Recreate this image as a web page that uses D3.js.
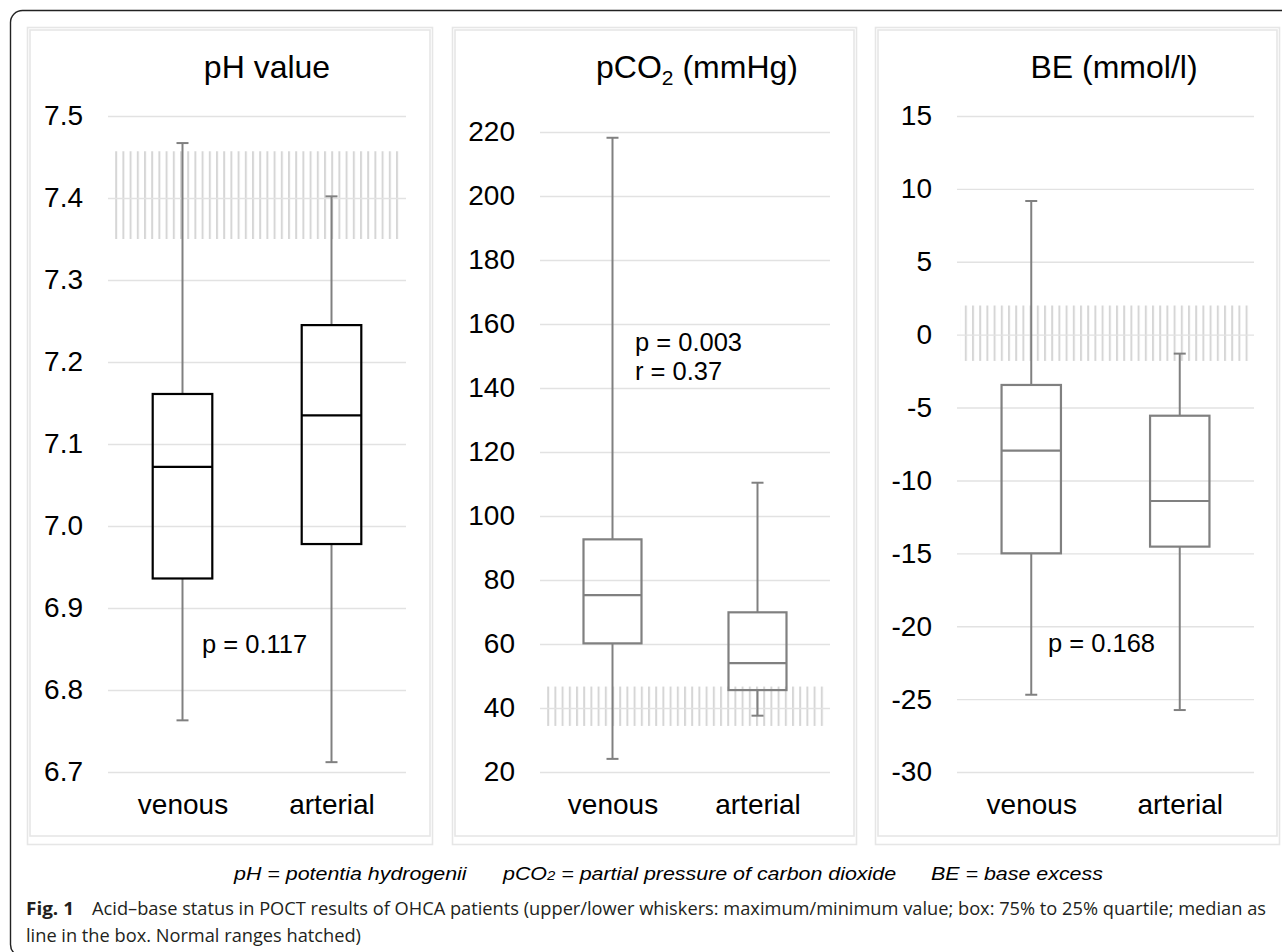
<!DOCTYPE html>
<html lang="en">
<head>
<meta charset="UTF-8">
<title>Acid-base status box plots</title>
<script src="https://d3js.org/d3.v7.min.js"></script>
<style>
    body { margin: 0; background: #fff; }
    text { font-family: "Liberation Sans", Arial, sans-serif; fill: #000; }
    .grid line { stroke: #e2e2e2; stroke-width: 1.4; }
    .whisker { stroke: #808080; stroke-width: 2; }
    .frame { fill: none; stroke: #e6e6e6; stroke-width: 1.6; }
    .caption { font-family: "Open Sans", "Noto Sans", sans-serif; fill: #231f20; font-size: 18.5px; }
</style>
</head>
<body>
<script>
// categories
const groups = ["venous", "arterial"];

// box stats per group: [min, q1, median, q3, max]
const phStats = [[6.763, 6.936, 7.072, 7.161, 7.467], [6.712, 6.978, 7.135, 7.245, 7.402]];
const pco2Stats = [[24.1, 60.2, 75.3, 92.7, 218.2], [37.6, 45.6, 54.0, 69.9, 110.4]];
const beStats = [[-24.7, -15.0, -7.96, -3.45, 9.17], [-25.75, -14.54, -11.41, -5.56, -1.3]];

// normal ranges (hatched)
const phNormal = [7.35, 7.457];
const pco2Normal = [34.4, 46.7];
const beNormal = [-1.8, 2.0];

// tick values
const phTicks = [6.7, 6.8, 6.9, 7.0, 7.1, 7.2, 7.3, 7.4, 7.5];
const pco2Ticks = [20, 40, 60, 80, 100, 120, 140, 160, 180, 200, 220];
const beTicks = [-30, -25, -20, -15, -10, -5, 0, 5, 10, 15];

// annotations
const phNotes = ["p = 0.117"];
const pco2Notes = ["p = 0.003", "r = 0.37"];
const beNotes = ["p = 0.168"];

const W = 1282, H = 952;
const svg = d3.select("body").append("svg")
    .attr("width", W)
    .attr("height", H);

// vertical hatch pattern
svg.append("defs").append("pattern")
    .attr("id", "hatch")
    .attr("patternUnits", "userSpaceOnUse")
    .attr("width", 7.2)
    .attr("height", 10)
  .append("rect")
    .attr("x", 0).attr("y", 0)
    .attr("width", 2).attr("height", 10)
    .attr("fill", "#d6d6d6");

// outer black frame
svg.append("rect")
    .attr("x", 10.5).attr("y", 10.5)
    .attr("width", 1300).attr("height", 946)
    .attr("rx", 12)
    .attr("fill", "none")
    .attr("stroke", "#222")
    .attr("stroke-width", 1.4);

const panels = [
    {title: "pH value", stats: phStats, normal: phNormal, ticks: phTicks, fmt: d => d.toFixed(1),
     domain: [6.7, 7.5], left: 27, right: 433, x0: 108, x1: 406, y0: 772, y1: 116,
     titleX: 267, boxColor: "#000", notes: phNotes, noteX: 202, noteY: 653},
    {title: "pCO", sub: "2", rest: " (mmHg)", stats: pco2Stats, normal: pco2Normal, ticks: pco2Ticks, fmt: d => String(d),
     domain: [20, 220], left: 452, right: 857, x0: 540, x1: 830, y0: 772, y1: 132,
     titleX: 697, boxColor: "#808080", notes: pco2Notes, noteX: 635, noteY: 351},
    {title: "BE (mmol/l)", stats: beStats, normal: beNormal, ticks: beTicks, fmt: d => String(d),
     domain: [-30, 15], left: 875, right: 1280, x0: 957, x1: 1254, y0: 772, y1: 116,
     titleX: 1114, boxColor: "#808080", notes: beNotes, noteX: 1048, noteY: 652}
];

panels.forEach(p => {
    const g = svg.append("g");

    // panel double border
    g.append("rect").attr("class", "frame")
        .attr("x", p.left + 0.5).attr("y", 27.5)
        .attr("width", p.right - p.left - 1).attr("height", 817);
    g.append("rect").attr("class", "frame")
        .attr("x", p.left + 3).attr("y", 30)
        .attr("width", p.right - p.left - 6).attr("height", 806);

    const y = d3.scaleLinear().domain(p.domain).range([p.y0, p.y1]);
    const x = d3.scalePoint().domain(groups).range([p.x0, p.x1]).padding(0.5);
    const bw = x.step() * 0.4;

    // hatched normal range
    g.append("rect")
        .attr("x", p.x0 + 3)
        .attr("width", p.x1 - p.x0 - 6)
        .attr("y", y(p.normal[1]))
        .attr("height", y(p.normal[0]) - y(p.normal[1]))
        .attr("fill", "url(#hatch)");

    // gridlines
    g.append("g").attr("class", "grid")
        .attr("transform", `translate(${p.x0},0)`)
        .call(d3.axisLeft(y).tickValues(p.ticks).tickSize(-(p.x1 - p.x0)).tickFormat(""))
        .call(s => s.select(".domain").remove());

    // tick labels
    g.append("g")
        .attr("transform", `translate(${p.x0 - 25},0)`)
        .call(d3.axisLeft(y).tickValues(p.ticks).tickSize(0).tickPadding(0).tickFormat(p.fmt))
        .call(s => s.select(".domain").remove())
        .call(s => s.selectAll("text")
            .attr("font-family", "Liberation Sans, Arial, sans-serif")
            .attr("font-size", 28)
            .attr("fill", "#000"));

    // category labels
    g.append("g")
        .attr("transform", `translate(0,${814})`)
        .call(d3.axisBottom(x).tickSize(0).tickPadding(0))
        .call(s => s.select(".domain").remove())
        .call(s => s.selectAll("text")
            .attr("dy", 0)
            .attr("font-family", "Liberation Sans, Arial, sans-serif")
            .attr("font-size", 28)
            .attr("fill", "#000"));

    // boxes
    const box = g.selectAll(".box").data(p.stats).join("g").attr("class", "box");
    box.append("line").attr("class", "whisker")
        .attr("x1", (d, i) => x(groups[i])).attr("x2", (d, i) => x(groups[i]))
        .attr("y1", d => y(d[4])).attr("y2", d => y(d[3]));
    box.append("line").attr("class", "whisker")
        .attr("x1", (d, i) => x(groups[i])).attr("x2", (d, i) => x(groups[i]))
        .attr("y1", d => y(d[1])).attr("y2", d => y(d[0]));
    [0, 4].forEach(k => {
        box.append("line").attr("class", "whisker")
            .attr("x1", (d, i) => x(groups[i]) - 6).attr("x2", (d, i) => x(groups[i]) + 6)
            .attr("y1", d => y(d[k])).attr("y2", d => y(d[k]));
    });
    box.append("rect")
        .attr("x", (d, i) => x(groups[i]) - bw / 2)
        .attr("width", bw)
        .attr("y", d => y(d[3]))
        .attr("height", d => y(d[1]) - y(d[3]))
        .attr("fill", "none")
        .attr("stroke", p.boxColor)
        .attr("stroke-width", 2.2);
    box.append("line")
        .attr("x1", (d, i) => x(groups[i]) - bw / 2).attr("x2", (d, i) => x(groups[i]) + bw / 2)
        .attr("y1", d => y(d[2])).attr("y2", d => y(d[2]))
        .attr("stroke", p.boxColor)
        .attr("stroke-width", 2.2);

    // title
    const t = g.append("text")
        .attr("x", p.titleX).attr("y", 78)
        .attr("text-anchor", "middle")
        .attr("font-size", 32)
        .text(p.title);
    if (p.sub) {
        t.append("tspan").attr("font-size", 21).attr("dy", 7).text(p.sub);
        t.append("tspan").attr("dy", -7).text(p.rest);
    }

    // annotations
    p.notes.forEach((n, i) => {
        g.append("text")
            .attr("x", p.noteX).attr("y", p.noteY + i * 29)
            .attr("font-size", 25.5)
            .text(n);
    });
});

// abbreviation line (slightly widened type, as in the source figure)
const abbr = svg.append("g").attr("font-style", "italic").attr("font-size", 18);
abbr.append("text").attr("transform", "translate(234,880) scale(1.19,1)")
    .text("pH = potentia hydrogenii");
const pc = abbr.append("text").attr("transform", "translate(503,880) scale(1.19,1)")
    .text("pCO");
pc.append("tspan").attr("font-size", 12.5).text("2");
pc.append("tspan").text(" = partial pressure of carbon dioxide");
abbr.append("text").attr("transform", "translate(931,880) scale(1.19,1)")
    .text("BE = base excess");

// figure caption
svg.append("text").attr("class", "caption")
    .attr("x", 26).attr("y", 915)
    .attr("font-weight", "bold")
    .attr("textLength", 48).attr("lengthAdjust", "spacingAndGlyphs")
    .text("Fig. 1");
svg.append("text").attr("class", "caption")
    .attr("x", 92).attr("y", 915)
    .attr("textLength", 1174)
    .attr("lengthAdjust", "spacingAndGlyphs")
    .text("Acid\u2013base status in POCT results of OHCA patients (upper/lower whiskers: maximum/minimum value; box: 75% to 25% quartile; median as");
svg.append("text").attr("class", "caption")
    .attr("x", 26).attr("y", 942)
    .attr("textLength", 335).attr("lengthAdjust", "spacingAndGlyphs")
    .text("line in the box. Normal ranges hatched)");
</script>
</body>
</html>
